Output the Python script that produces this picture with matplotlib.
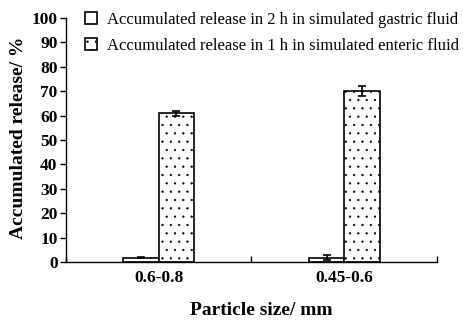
import matplotlib.pyplot as plt
import matplotlib as mpl
import numpy as np

mpl.rcParams['hatch.linewidth'] = 0.4

sizes = ['0.6-0.8', '0.45-0.6']
gastric = [1.8, 1.8]
gastric_err = [0.3, 1.0]
enteric = [61.0, 70.1]
enteric_err = [1.0, 2.2]
labels = ['Accumulated release in 2 h in simulated gastric fluid',
          'Accumulated release in 1 h in simulated enteric fluid']

serif = 'Liberation Serif'

fig = plt.figure(figsize=(4.64, 3.2), dpi=100)
ax = fig.add_axes([0.142, 0.181, 0.800, 0.763])

x = np.arange(len(sizes)) + 0.5
w = 0.19
ekw = dict(ecolor='black', elinewidth=1.2, capsize=3, capthick=1.2)
b1 = ax.bar(x - w / 2, gastric, w, yerr=gastric_err, color='white',
            edgecolor='black', linewidth=1.2, error_kw=ekw, label=labels[0])
b2 = ax.bar(x + w / 2, enteric, w, yerr=enteric_err, color='white',
            edgecolor='black', linewidth=1.2, hatch='..', error_kw=ekw,
            label=labels[1])

ax.set_xlim(0, 2)
ax.set_ylim(0, 100)
ax.set_yticks(range(0, 101, 10))
ax.set_xticks([0, 1, 2])
ax.set_xticklabels(['', '', ''])
ax.set_xticks(x, minor=True)
ax.set_xticklabels(sizes, minor=True)
ax.tick_params(axis='x', which='major', direction='in', length=4, width=1)
ax.tick_params(axis='x', which='minor', length=0, pad=6)
ax.tick_params(axis='y', direction='out', length=4, width=1, pad=2)
for t in ax.get_yticklabels() + ax.get_xticklabels(minor=True):
    t.set_fontfamily(serif)
    t.set_fontweight('bold')
    t.set_fontsize(12.5)

for s in ['top', 'right']:
    ax.spines[s].set_visible(False)
for s in ['left', 'bottom']:
    ax.spines[s].set_linewidth(1.0)

ax.set_ylabel('Accumulated release/ %', fontfamily=serif, fontweight='bold',
              fontsize=14)
ax.yaxis.set_label_coords(-0.104, 0.51)
ax.set_xlabel('Particle size/ mm', fontfamily=serif, fontweight='bold',
              fontsize=14)
ax.xaxis.set_label_coords(0.527, -0.165)

leg = fig.legend(handles=[b1, b2], loc='upper left',
                 bbox_to_anchor=(0.183, 0.962), frameon=False,
                 prop={'family': serif, 'size': 12}, handlelength=0.7,
                 handleheight=0.7, handletextpad=0.6, labelspacing=0.6,
                 borderpad=0, borderaxespad=0)

fig.savefig('out.png', dpi=100)
